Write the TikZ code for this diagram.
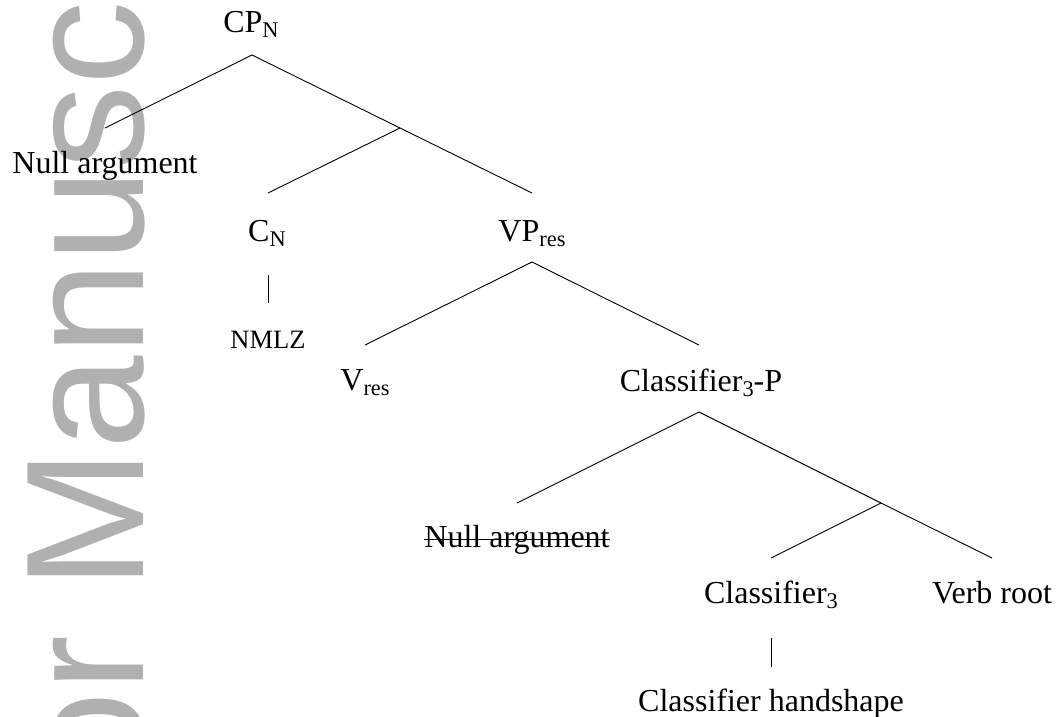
\documentclass[tikz,border=0pt]{standalone}
\usepackage{fontspec}
\setmainfont{Liberation Serif}
\newfontfamily\wmfont{Liberation Sans}
\definecolor{wmgray}{RGB}{176,176,176}
% lowered, smaller index text (N, res, 3)
\newcommand{\subtxt}[1]{\raisebox{-5pt}{\fontsize{22.4}{22.4}\selectfont #1}}
\tikzset{
  lbl/.style={anchor=base, inner sep=0pt, font=\fontsize{32}{38}\selectfont},
  gloss/.style={anchor=base, inner sep=0pt, font=\fontsize{26.5}{30}\selectfont},
  branch/.style={line width=0.9pt},
  strike/.style={line width=0.9pt},
  watermark/.style={anchor=base west, inner sep=0pt, rotate=90, text=wmgray,
    font=\wmfont\fontsize{168}{168}\selectfont},
}
\begin{document}
\begin{tikzpicture}[x=1pt,y=-1pt]
\useasboundingbox (0,0) rectangle (1057,717);

% background stamp
\begin{scope}
  \clip (0,0) rectangle (1057,717);
  \node[watermark] (wm) at (143,1131) {Author Manuscript};
\end{scope}

% labels
\node[lbl] (cpn)   at (251,33)  {CP\subtxt{N}};
\node[lbl] (nullA) at (105,173) {Null argument};
\node[lbl] (cn)    at (267,241) {C\subtxt{N}};
\node[gloss] (nmlz) at (268,348) {NMLZ};
\node[lbl] (vp)    at (532,241) {VP\subtxt{res}};
\node[lbl] (vres)  at (365,390) {V\subtxt{res}};
\node[lbl] (clp)   at (701,391) {Classifier\subtxt{3}-P};
\node[lbl] (nullB) at (517,547) {Null argument};
\node[lbl] (cl3)   at (771,603) {Classifier\subtxt{3}};
\node[lbl] (verb)  at (992,603) {Verb root};
\node[lbl] (hand)  at (771,711) {Classifier handshape};

% attachment points of the branches
\coordinate (cpn-b)   at (252,55);
\coordinate (nullA-t) at (105,128);
\coordinate (bar1)    at (400,128);
\coordinate (cn-t)    at (268,193);
\coordinate (vp-t)    at (532,193);
\coordinate (cn-b)    at (268,275);
\coordinate (nmlz-t)  at (268,303);
\coordinate (vp-b)    at (532,262);
\coordinate (vres-t)  at (365,345);
\coordinate (clp-t)   at (699,345);
\coordinate (clp-b)   at (699,412);
\coordinate (nullB-t) at (517,503);
\coordinate (bar2)    at (881,503);
\coordinate (cl3-t)   at (771,558);
\coordinate (verb-t)  at (992,558);
\coordinate (cl3-b)   at (771,638);
\coordinate (hand-t)  at (771,667);

% branches
\draw[branch] (cpn-b) -- (nullA-t);
\draw[branch] (cpn-b) -- (bar1);
\draw[branch] (bar1) -- (cn-t);
\draw[branch] (bar1) -- (vp-t);
\draw[branch] (cn-b) -- (nmlz-t);
\draw[branch] (vp-b) -- (vres-t);
\draw[branch] (vp-b) -- (clp-t);
\draw[branch] (clp-b) -- (nullB-t);
\draw[branch] (clp-b) -- (bar2);
\draw[branch] (bar2) -- (cl3-t);
\draw[branch] (bar2) -- (verb-t);
\draw[branch] (cl3-b) -- (hand-t);

% deleted argument
\draw[strike] ([yshift=8pt]nullB.base west) -- ([yshift=8pt]nullB.base east);
\end{tikzpicture}
\end{document}
